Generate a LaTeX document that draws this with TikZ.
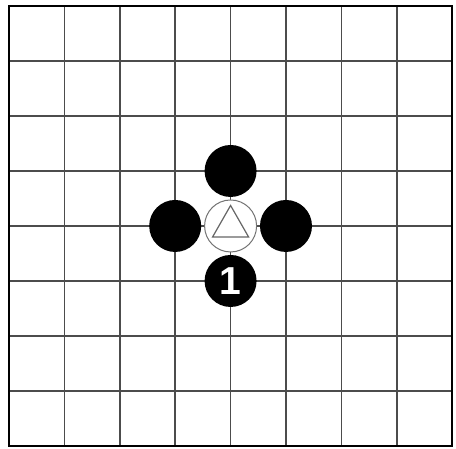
\documentclass[tikz,border=0pt]{standalone}
\usepackage{fontspec}
\newfontfamily\stonefont{Liberation Sans}
\tikzset{
  stone/.style={circle, inner sep=0pt, minimum size=52pt},
  blackstone/.style={stone, fill=black},
  whitestone/.style={stone, fill=white, draw=black!55, line width=1pt},
  gridline/.style={black!70, line width=1.5pt},
}
\begin{document}
\begin{tikzpicture}[x=55.4pt, y=55pt]
\useasboundingbox (-0.1625,-0.0545) rectangle (8.069,8.109);
\foreach \i in {1,...,7} {
  \draw[gridline] (\i,0) -- (\i,8);
  \draw[gridline] (0,\i) -- (8,\i);
}
\draw[line width=2.3pt] (0,0) rectangle (8,8);
\node[blackstone] (top) at (4,5) {};
\node[blackstone] (left) at (3,4) {};
\node[blackstone] (right) at (5,4) {};
\node[whitestone] (w) at (4,4) {};
\node[blackstone, text=white, font=\stonefont\bfseries\fontsize{39}{39}\selectfont] (one) at (4,3) {1};
\draw[black!60, line width=1.2pt, line join=miter]
  ([yshift=20.5pt]w.center) -- ([xshift=-18pt, yshift=-11pt]w.center)
  -- ([xshift=18pt, yshift=-11pt]w.center) -- cycle;
\end{tikzpicture}
\end{document}
